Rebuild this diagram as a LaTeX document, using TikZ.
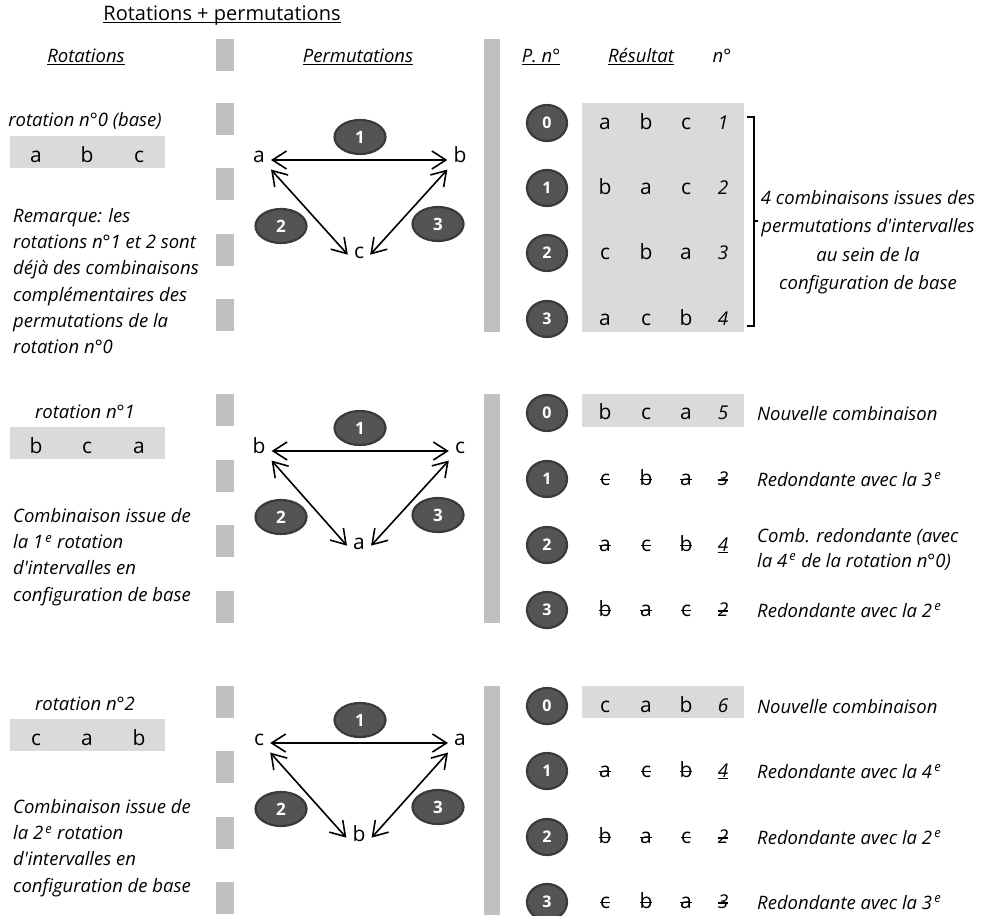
\documentclass[tikz,border=0pt]{standalone}
\usepackage{fontspec}
\setmainfont{Open Sans}
\usetikzlibrary{shapes.geometric,arrows.meta}

\definecolor{fondgris}{RGB}{218,218,218}
\definecolor{barregris}{RGB}{192,192,192}
\definecolor{grisfonce}{RGB}{84,84,84}
\definecolor{bordfonce}{RGB}{58,58,58}

\newsavebox{\boitemot}
\newcommand{\souligne}[1]{\sbox{\boitemot}{#1}\rlap{\vrule height -1.3pt depth 2.3pt width \wd\boitemot}\usebox{\boitemot}}
\newcommand{\barre}[1]{\sbox{\boitemot}{#1}\rlap{\vrule height .56ex depth -.44ex width \wd\boitemot}\usebox{\boitemot}}
\newcommand{\ieme}{\textsuperscript{\,e}}
\newcommand{\apo}{\textquotesingle}

\tikzset{
    texte/.style={font=\fontsize{18.5}{26.3}\selectfont\itshape, inner sep=0pt},
    lettre/.style={font=\fontsize{21}{25}\selectfont, inner sep=0pt, anchor=base},
    numero/.style={font=\fontsize{19}{23}\selectfont\itshape, inner sep=0pt, anchor=base},
    pastille/.style={ellipse, fill=grisfonce, draw=bordfonce, line width=2.2pt, text=white,
        font=\fontsize{16}{18}\selectfont\bfseries, minimum width=40pt, minimum height=36pt, inner sep=0pt},
    bulle/.style={pastille, minimum width=51pt, minimum height=34pt, font=\fontsize{17}{19}\selectfont\bfseries},
    sommet/.style={font=\fontsize{21}{25}\selectfont, text height=1.5ex, text depth=0.25ex, inner sep=6pt, anchor=base},
    fleche/.style={{Straight Barb[length=14pt,width=18pt]}-{Straight Barb[length=14pt,width=18pt]}, line width=1.6pt},
    tiret/.style={fill=barregris},
    fond/.style={fill=fondgris}
}

\begin{document}
\begin{tikzpicture}[x=1pt,y=-1pt]
    \useasboundingbox (0,0) rectangle (984,915);

    % titres
    \node[font=\fontsize{20}{24}\selectfont, inner sep=0pt, anchor=base] (titre) at (222,21) {\souligne{Rotations + permutations}};
    \node[texte, anchor=base] (hrot) at (86,63) {\souligne{Rotations}};
    \node[texte, anchor=base] (hperm) at (358,63) {\souligne{Permutations}};
    \node[texte, anchor=base] (hpn) at (541,63) {\souligne{P. n°}};
    \node[texte, anchor=base] (hres) at (641,63) {\souligne{Résultat}};
    \node[texte, anchor=base] (hnum) at (722,63) {n°};

    % separateurs
    \foreach \y in {39,103,168,234,299,394,460,525,591,686,751,817,882}
        \fill[tiret] (216,\y) rectangle (234,\y+32);
    \fill[tiret] (484,39) rectangle (500,332);
    \fill[tiret] (484,394) rectangle (500,623);
    \fill[tiret] (484,686) rectangle (500,915);

    % rotations et permutations
    \foreach \k/\dy/\p/\q/\r/\t in {0/0/a/b/c/rotation n°0 (base), 1/291/b/c/a/rotation n°1, 2/583/c/a/b/rotation n°2}{
        \begin{scope}[shift={(0,\dy)}]
            \node[texte, anchor=base] (rot\k) at (85,127) {\t};
            \fill[fond] (10,136) rectangle (165,168);
            \node[lettre] (rot\k a) at (36,162) {\p};
            \node[lettre] (rot\k b) at (87,162) {\q};
            \node[lettre] (rot\k c) at (139,162) {\r};
            \node[sommet] (g\k) at (259,162) {\p};
            \node[sommet] (d\k) at (460,162) {\q};
            \node[sommet] (m\k) at (359,258) {\r};
            \draw[fleche] ([yshift=2pt]g\k.base east) -- ([yshift=2pt]d\k.base west);
            \draw[fleche] (g\k.south east) -- (m\k.west);
            \draw[fleche] (d\k.south west) -- (m\k.east);
            \node[bulle] (un\k) at (360,137) {1};
            \node[bulle] (deux\k) at (281,226) {2};
            \node[bulle] (trois\k) at (438,224) {3};
        \end{scope}
    }

    % remarques a gauche
    \node[texte, align=left, anchor=north west] (rem) at (13,208)
        {Remarque: les\\rotations n°1 et 2 sont\\déjà des combinaisons\\complémentaires des\\permutations de la\\rotation n°0};
    \node[texte, align=left, anchor=north west] (comb1) at (13,508)
        {Combinaison issue de\\la 1\ieme{} rotation\\d\apo intervalles en\\configuration de base};
    \node[texte, align=left, anchor=north west] (comb2) at (13,799)
        {Combinaison issue de\\la 2\ieme{} rotation\\d\apo intervalles en\\configuration de base};

    % resultats
    \fill[fond] (582,103) rectangle (744,332);
    \fill[fond] (582,394) rectangle (744,427);
    \fill[fond] (582,686) rectangle (744,718);
    \foreach \nom/\y/\pn/\ra/\rb/\rc/\rn in {
        a0/123/0/a/b/c/1, a1/188/1/b/a/c/2, a2/253/2/c/b/a/3, a3/319/3/a/c/b/4,
        b0/413/0/b/c/a/5, b1/479/1/{\barre{c}}/{\barre{b}}/{\barre{a}}/{\barre{3}},
        b2/545/2/{\barre{a}}/{\barre{c}}/{\barre{b}}/{\souligne{4}}, b3/610/3/{\barre{b}}/{\barre{a}}/{\barre{c}}/{\barre{2}},
        c0/706/0/c/a/b/6, c1/771/1/{\barre{a}}/{\barre{c}}/{\barre{b}}/{\souligne{4}},
        c2/837/2/{\barre{b}}/{\barre{a}}/{\barre{c}}/{\barre{2}}, c3/902/3/{\barre{c}}/{\barre{b}}/{\barre{a}}/{\barre{3}}}{
        \node[pastille] (pn\nom) at (547,\y) {\pn};
        \node[lettre] (x\nom) at (605,\y+6) {\ra};
        \node[lettre] (y\nom) at (646,\y+6) {\rb};
        \node[lettre] (z\nom) at (686,\y+6) {\rc};
        \node[numero] (n\nom) at (723,\y+6) {\rn};
    }

    % accolade
    \draw[line width=1.3pt] (747,117) -- (754,117) -- (754,326) -- (747,326);
    \draw[line width=1.3pt] (754,221) -- (758,221);
    \node[texte, font=\fontsize{18.5}{28.5}\selectfont\itshape, align=center] (accol) at (868,242)
        {4 combinaisons issues des\\permutations d\apo intervalles\\au sein de la\\configuration de base};

    % commentaires
    \node[texte, anchor=base west] (nb0) at (757,420) {Nouvelle combinaison};
    \node[texte, anchor=base west] (nb1) at (757,486) {Redondante avec la 3\ieme};
    \node[texte, anchor=north west, align=left, font=\fontsize{18.5}{25}\selectfont\itshape] (nb2) at (757,528)
        {Comb. redondante (avec\\la 4\ieme{} de la rotation n°0)};
    \node[texte, anchor=base west] (nb3) at (757,617) {Redondante avec la 2\ieme};
    \node[texte, anchor=base west] (nc0) at (757,713) {Nouvelle combinaison};
    \node[texte, anchor=base west] (nc1) at (757,778) {Redondante avec la 4\ieme};
    \node[texte, anchor=base west] (nc2) at (757,844) {Redondante avec la 2\ieme};
    \node[texte, anchor=base west] (nc3) at (757,909) {Redondante avec la 3\ieme};
\end{tikzpicture}
\end{document}
